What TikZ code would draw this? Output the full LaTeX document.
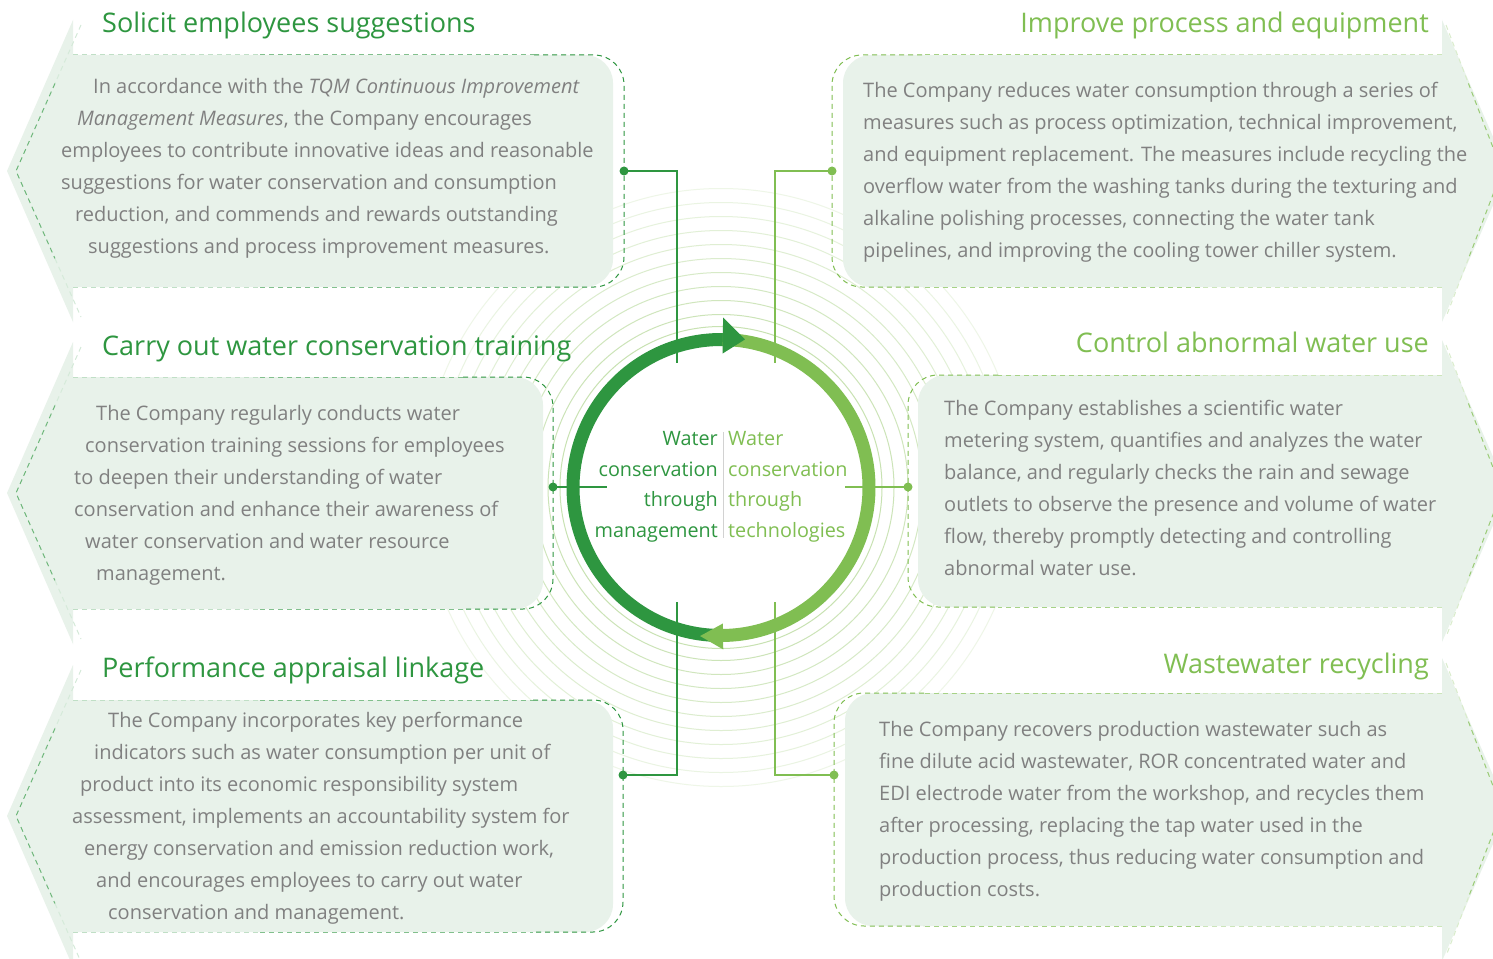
\documentclass[tikz,border=0pt]{standalone}
\usepackage{fontspec}
\setmainfont{Open Sans}
\usetikzlibrary{calc}
\definecolor{dg}{RGB}{46,150,64}
\definecolor{lg}{RGB}{128,190,82}
\definecolor{pfill}{RGB}{232,242,234}
\definecolor{bodygray}{RGB}{128,128,128}
\definecolor{ringc}{RGB}{180,215,150}
\definecolor{divgray}{RGB}{210,210,210}
\tikzset{
  dashline/.style={line width=1pt, dash pattern=on 5pt off 4pt},
  conn/.style={line width=1.3pt},
  dotn/.style={circle, inner sep=0pt, minimum size=9pt},
  bt/.style={anchor=base west, inner sep=0pt, text=bodygray, font=\fontsize{20}{24}\selectfont},
  ttl/.style={inner sep=0pt, font=\fontsize{27}{32}\selectfont},
  ctr/.style={inner sep=0pt, font=\fontsize{19.8}{24}\selectfont},
}
\newcommand\BL[4]{\node[bt] (#1) at (#2,#3) {#4};}
% left panel: top, bottom, fill right, dashed right, mid y
\newcommand\LPanel[5]{%
  \fill[pfill] (73,#1-35) -- (7,#5) -- (73,#2+35) -- (73,#2) -- (120,#2) -- (120,#1) -- (73,#1) -- cycle;
  \fill[pfill, rounded corners=28pt] (73,#1) rectangle (#3,#2);
  \draw[dashline, dg!30] (73,#1) -- (260,#1) (73,#2) -- (260,#2);
  \draw[dashline, dg!60] (260,#1) -- (#4-90,#1) (260,#2) -- (#4-90,#2);
  \draw[dashline, dg, rounded corners=30pt] (#4-90,#1) -- (#4,#1) -- (#4,#2) -- (#4-90,#2);
  \draw[dashline, dg!20] (81,#1-30) -- ($(81,#1-30)!.4!(16,#5)$);
  \draw[dashline, dg!70] ($(81,#1-30)!.4!(16,#5)$) -- (16,#5) -- ($(81,#2+30)!.4!(16,#5)$);
  \draw[dashline, dg!20] ($(81,#2+30)!.4!(16,#5)$) -- (81,#2+30);
}
% right panel: top, bottom, fill left, dashed left, mid y
\newcommand\RPanel[5]{%
  \fill[pfill] (1442,#1-35) -- (1508,#5) -- (1442,#2+35) -- (1442,#2) -- (1400,#2) -- (1400,#1) -- (1442,#1) -- cycle;
  \fill[pfill, rounded corners=28pt] (#3,#1) rectangle (1442,#2);
  \draw[dashline, lg!40] (1442,#1) -- (1200,#1) (1442,#2) -- (1200,#2);
  \draw[dashline, lg!70] (1200,#1) -- (#4+90,#1) (1200,#2) -- (#4+90,#2);
  \draw[dashline, lg, rounded corners=30pt] (#4+90,#1) -- (#4,#1) -- (#4,#2) -- (#4+90,#2);
  \draw[dashline, lg!30] (1446,#1-30) -- ($(1446,#1-30)!.4!(1502,#5)$);
  \draw[dashline, lg!80] ($(1446,#1-30)!.4!(1502,#5)$) -- (1502,#5) -- ($(1446,#2+30)!.4!(1502,#5)$);
  \draw[dashline, lg!30] ($(1446,#2+30)!.4!(1502,#5)$) -- (1446,#2+30);
}
\begin{document}
\begin{tikzpicture}[x=1pt,y=-1pt]
\useasboundingbox (0,0) rectangle (1493,958);
\clip (0,0) rectangle (1493,958);
\fill[white] (0,0) rectangle (1493,958);
\coordinate (c) at (721,487.5);
% faint concentric rings
\foreach \r [count=\i] in {161,173,187,201,215,229,243,257,271,285,299}{
  \pgfmathtruncatemacro\pct{78-5*\i}
  \draw[ringc!\pct!white, line width=1pt] (c) circle[radius=\r pt];
}
% panels
\LPanel{55}{287}{613}{624}{171}
\LPanel{377}{609}{543}{553}{493}
\LPanel{700}{932}{613}{623}{816}
\RPanel{55}{287}{843}{832}{171}
\RPanel{375}{607}{918}{908}{491}
\RPanel{693}{926}{845}{834}{809.5}
% connector dots
\node[dotn, fill=dg] (dTL) at (624,171) {};
\node[dotn, fill=dg] (dML) at (553,487) {};
\node[dotn, fill=dg] (dBL) at (623,775) {};
\node[dotn, fill=lg] (dTR) at (832,171) {};
\node[dotn, fill=lg] (dMR) at (908,487) {};
\node[dotn, fill=lg] (dBR) at (834,775) {};
\coordinate (eTL) at (677,363);
\coordinate (eML) at (607,487);
\coordinate (eBL) at (677,602);
\coordinate (eTR) at (775,363);
\coordinate (eMR) at (845,487);
\coordinate (eBR) at (775,602);
\draw[conn, dg] (dTL.center) -| (eTL);
\draw[conn, dg] (dML.center) -- (eML);
\draw[conn, dg] (dBL.center) -| (eBL);
\draw[conn, lg] (dTR.center) -| (eTR);
\draw[conn, lg] (dMR.center) -- (eMR);
\draw[conn, lg] (dBR.center) -| (eBR);
% main cycle ring
\draw[dg, line width=13pt] ($(c)+(-89.2:148pt)$) arc[start angle=-89.2, end angle=-270.7, radius=148pt];
\draw[lg, line width=13pt] ($(c)+(89.3:148pt)$) arc[start angle=89.3, end angle=-89.2, radius=148pt];
\fill[dg] ($(c)+(89.3:134pt)$) -- ($(c)+(89.3:170pt)$) -- ($(c)+(80.8:150pt)$) -- cycle;
\fill[lg] ($(c)+(-89.2:136pt)$) -- ($(c)+(-89.2:162pt)$) -- ($(c)+(-98.0:150pt)$) -- cycle;
% center text
\coordinate (dvt) at (723,432);
\coordinate (dvb) at (723,538);
\draw[divgray, line width=1pt] (dvt) -- (dvb);
\node[ctr, anchor=base east, text=dg] (cl1) at (718,445) {Water};
\node[ctr, anchor=base east, text=dg] (cl2) at (718,476) {conservation};
\node[ctr, anchor=base east, text=dg] (cl3) at (718,506) {through};
\node[ctr, anchor=base east, text=dg] (cl4) at (718,537) {management};
\node[ctr, anchor=base west, text=lg] (cr1) at (728,445) {Water};
\node[ctr, anchor=base west, text=lg] (cr2) at (728,476) {conservation};
\node[ctr, anchor=base west, text=lg] (cr3) at (728,506) {through};
\node[ctr, anchor=base west, text=lg] (cr4) at (728,537) {technologies};
% titles
\node[ttl, anchor=base west, text=dg] (t1) at (102,33) {Solicit employees suggestions};
\node[ttl, anchor=base west, text=dg] (t2) at (102,355) {Carry out water conservation training};
\node[ttl, anchor=base west, text=dg] (t3) at (102,677) {Performance appraisal linkage};
\node[ttl, anchor=base east, text=lg] (t4) at (1429,33) {Improve process and equipment};
\node[ttl, anchor=base east, text=lg] (t5) at (1429,352) {Control abnormal water use};
\node[ttl, anchor=base east, text=lg] (t6) at (1429,673) {Wastewater recycling};
% body text
\BL{tla}{93}{93}{In accordance with the \textit{TQM Continuous Improvement}}
\BL{tlb}{77}{125}{\textit{Management Measures}, the Company encourages}
\BL{tlc}{61}{157}{employees to contribute innovative ideas and reasonable}
\BL{tld}{61}{189}{suggestions for water conservation and consumption}
\BL{tle}{75}{221}{reduction, and commends and rewards outstanding}
\BL{tlf}{88}{253}{suggestions and process improvement measures.}
\BL{mla}{96}{420}{The Company regularly conducts water}
\BL{mlb}{85}{452}{conservation training sessions for employees}
\BL{mlc}{74}{484}{to deepen their understanding of water}
\BL{mld}{74}{516}{conservation and enhance their awareness of}
\BL{mle}{85}{548}{water conservation and water resource}
\BL{mlf}{96}{580}{management.}
\BL{bla}{108}{727}{The Company incorporates key performance}
\BL{blb}{94}{759}{indicators such as water consumption per unit of}
\BL{blc}{80}{791}{product into its economic responsibility system}
\BL{bld}{72}{823}{assessment, implements an accountability system for}
\BL{ble}{84}{855}{energy conservation and emission reduction work,}
\BL{blf}{96}{887}{and encourages employees to carry out water}
\BL{blg}{108}{919}{conservation and management.}
\BL{tra}{863}{97}{The Company reduces water consumption through a series of}
\BL{trb}{863}{129}{measures such as process optimization, technical improvement,}
\BL{trc}{863}{161}{and equipment replacement. The measures include recycling the}
\BL{trd}{863}{193}{overflow water from the washing tanks during the texturing and}
\BL{tre}{863}{225}{alkaline polishing processes, connecting the water tank}
\BL{trf}{863}{257}{pipelines, and improving the cooling tower chiller system.}
\BL{mra}{944}{415}{The Company establishes a scientific water}
\BL{mrb}{944}{447}{metering system, quantifies and analyzes the water}
\BL{mrc}{944}{479}{balance, and regularly checks the rain and sewage}
\BL{mrd}{944}{511}{outlets to observe the presence and volume of water}
\BL{mre}{944}{543}{flow, thereby promptly detecting and controlling}
\BL{mrf}{944}{575}{abnormal water use.}
\BL{bra}{879}{736}{The Company recovers production wastewater such as}
\BL{brb}{879}{768}{fine dilute acid wastewater, ROR concentrated water and}
\BL{brc}{879}{800}{EDI electrode water from the workshop, and recycles them}
\BL{brd}{879}{832}{after processing, replacing the tap water used in the}
\BL{bre}{879}{864}{production process, thus reducing water consumption and}
\BL{brf}{879}{896}{production costs.}
\end{tikzpicture}
\end{document}
